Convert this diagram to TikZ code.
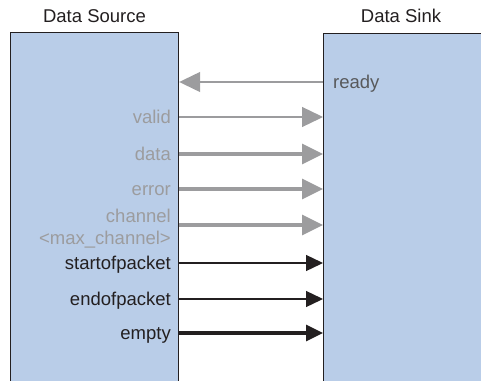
\documentclass[tikz,border=0pt]{standalone}
\usepackage{fontspec}
\setmainfont{Liberation Sans}
\usetikzlibrary{arrows.meta}
\definecolor{blockblue}{RGB}{185,205,232}
\definecolor{inkblack}{RGB}{35,31,32}
\definecolor{sigrey}{RGB}{156,156,158}
\definecolor{readygrey}{RGB}{88,89,91}
\tikzset{
	block/.style={draw=inkblack, line width=1.2pt, fill=blockblue, rectangle, inner sep=0pt, anchor=north west},
	title/.style={anchor=base, inner sep=0pt, text=inkblack, font=\fontsize{18.5}{22}\selectfont},
	sig/.style={anchor=east, inner sep=0pt, text height=13pt, text depth=0pt, font=\fontsize{18.5}{22}\selectfont},
	greyhead/.style={-{Triangle[length=21pt,width=20pt]}, color=sigrey},
	blackhead/.style={-{Triangle[length=17pt,width=16pt]}, color=inkblack},
	thin/.style={line width=1.3pt},
	thick/.style={line width=3.3pt}
}
\begin{document}
\begin{tikzpicture}[x=1pt, y=-1pt]
			%%%%% START %%%%%
			
			\useasboundingbox (0, 0) rectangle (481, 380);
			\clip (0, 0) rectangle (481, 380);
			
			\node[title] (srctitle) at (94.5, 22) {Data Source};
			\node[title] (snktitle) at (401, 22) {Data Sink};
			
			\node[block, minimum width=168, minimum height=400] (src) at (10, 32) {};
			\node[block, minimum width=200, minimum height=400] (snk) at (323, 33) {};
			
			\node[sig, anchor=west, text=readygrey] (ready) at (333, 82) {ready};
			
			\node[sig, text=sigrey] (valid) at (171, 117) {valid};
			\node[sig, text=sigrey] (data) at (171, 154) {data};
			\node[sig, text=sigrey] (error) at (171, 189) {error};
			\node[sig, text=sigrey] (chan) at (171, 215.5) {channel};
			\node[sig, text=sigrey] (maxchan) at (171, 237.5) {<max\_channel>};
			\coordinate (chanrow) at (171, 225);
			
			\node[sig, text=inkblack] (sop) at (171, 263) {startofpacket};
			\node[sig, text=inkblack] (eop) at (171, 299) {endofpacket};
			\node[sig, text=inkblack] (empty) at (171, 333) {empty};
			
			\draw[greyhead, thin] (snk.west |- ready) -- (src.east |- ready);
			
			\draw[greyhead, thin] (src.east |- valid) -- (snk.west |- valid);
			\draw[greyhead, thick] (src.east |- data) -- (snk.west |- data);
			\draw[greyhead, thick] (src.east |- error) -- (snk.west |- error);
			\draw[greyhead, thick] (src.east |- chanrow) -- (snk.west |- chanrow);
			
			\draw[blackhead, thin] (src.east |- sop) -- (snk.west |- sop);
			\draw[blackhead, thin] (src.east |- eop) -- (snk.west |- eop);
			\draw[blackhead, thick] (src.east |- empty) -- (snk.west |- empty);
			
			%%%%% END %%%%%
\end{tikzpicture}
\end{document}
